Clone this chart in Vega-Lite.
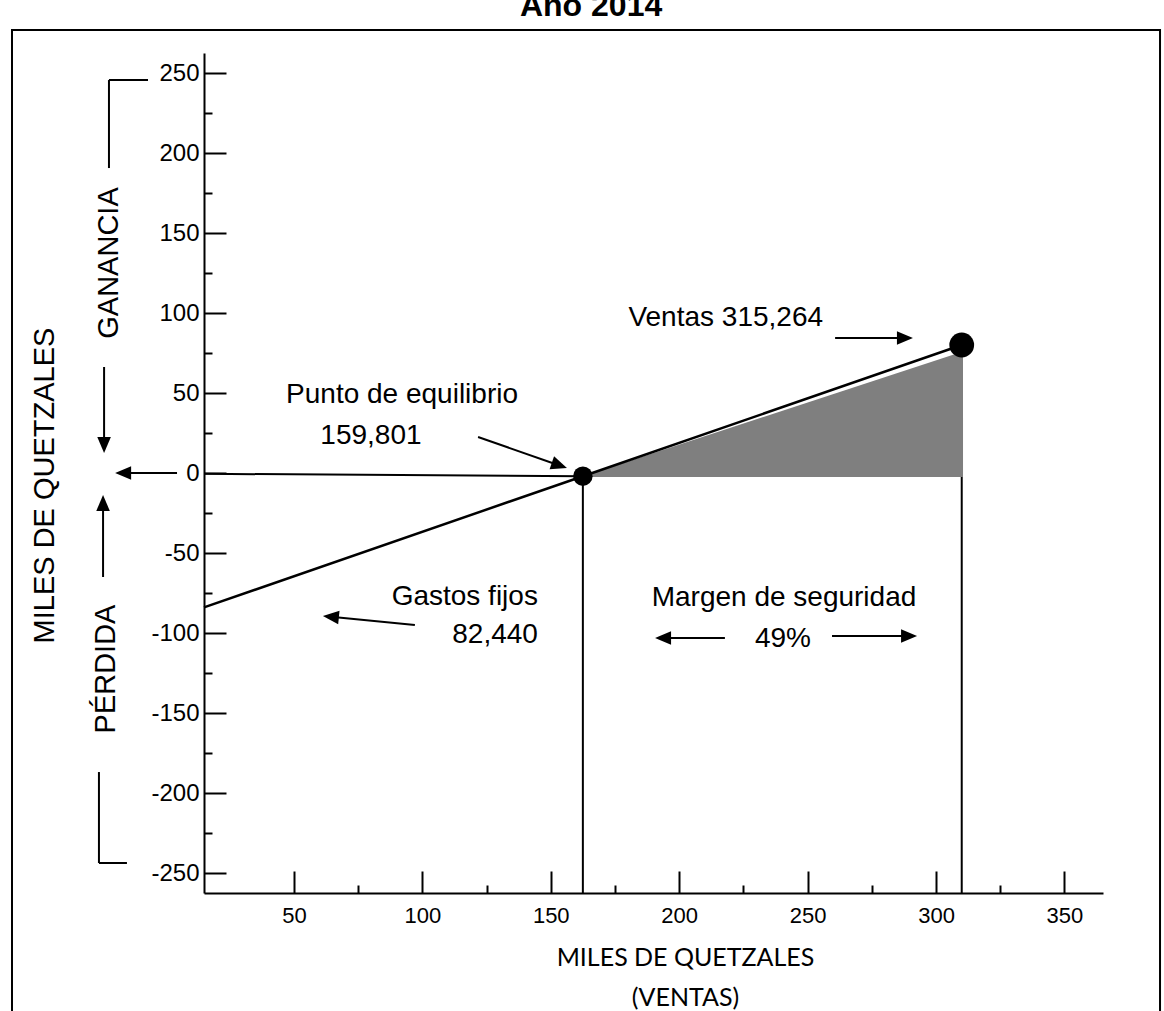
{
  "$schema": "https://vega.github.io/schema/vega-lite/v6.json",
  "width": 899,
  "height": 840,
  "autosize": {"type": "none"},
  "padding": {"left": 204, "top": 53, "right": 61, "bottom": 118},
  "data": {"values": [{}]},
  "datasets": {
    "resultado": [
      {"ventas": 15, "resultado": -84},
      {"ventas": 162.5, "resultado": -2},
      {"ventas": 310, "resultado": 80}
    ],
    "margen": [
      {"ventas": 162.5, "superior": -2, "inferior": -2.5},
      {"ventas": 310.5, "superior": 76, "inferior": -2.5}
    ],
    "puntos": [
      {"ventas": 162.5, "resultado": -2, "tipo": "Punto de equilibrio"},
      {"ventas": 310, "resultado": 80, "tipo": "Ventas"}
    ]
  },
  "layer": [
    {
      "mark": {"type": "rect", "fill": "transparent", "stroke": "black", "strokeWidth": 2},
      "encoding": {
        "x": {"datum": -59.75}, "x2": {"datum": 387.2},
        "y": {"datum": 276.9}, "y2": {"datum": -348}
      }
    },
    {
      "mark": {"type": "text", "text": "Año 2014", "align": "center", "baseline": "alphabetic", "font": "Liberation Sans", "fontSize": 32, "fontWeight": "bold", "color": "black"},
      "encoding": {"x": {"datum": 165.7}, "y": {"datum": 285.6}}
    },
    {
      "data": {"name": "puntos"},
      "mark": {"type": "rule", "color": "black", "strokeWidth": 2},
      "encoding": {
        "x": {"field": "ventas", "type": "quantitative"},
        "y": {"field": "resultado", "type": "quantitative"},
        "y2": {"datum": -262.5}
      }
    },
    {
      "data": {"name": "margen"},
      "mark": {"type": "area", "color": "#7f7f7f", "opacity": 1},
      "encoding": {
        "x": {"field": "ventas", "type": "quantitative"},
        "y": {"field": "superior", "type": "quantitative"},
        "y2": {"field": "inferior"}
      }
    },
    {
      "mark": {"type": "rule", "color": "black", "strokeWidth": 2},
      "encoding": {
        "x": {"datum": 15}, "x2": {"datum": 162.5},
        "y": {"datum": -0.5}, "y2": {"datum": -2}
      }
    },
    {
      "data": {"name": "resultado"},
      "mark": {"type": "line", "color": "black", "strokeWidth": 2.5},
      "encoding": {
        "x": {
          "field": "ventas",
          "type": "quantitative",
          "scale": {"domain": [15, 365], "nice": false, "zero": false},
          "axis": {
            "values": [50, 75, 100, 125, 150, 175, 200, 225, 250, 275, 300, 325, 350],
            "labelExpr": "datum.value % 50 === 0 ? '' + datum.value : ''",
            "tickSize": {"condition": {"test": "datum.value % 50 === 0", "value": -22}, "value": -8},
            "tickWidth": 2,
            "domainWidth": 2,
            "labelPadding": 51,
            "labelBaseline": "alphabetic",
            "labelFontSize": 22,
            "labelFlush": false,
            "labelOverlap": false,
            "title": ["MILES DE QUETZALES", "(VENTAS)"],
            "titleFont": "Lato",
            "titleFontSize": 25,
            "titleFontWeight": "normal",
            "titleLineHeight": 40,
            "titleAlign": "center",
            "titleBaseline": "alphabetic",
            "titleX": 481,
            "titleY": 72
          }
        },
        "y": {
          "field": "resultado",
          "type": "quantitative",
          "scale": {"domain": [-262.5, 262.5], "nice": false, "zero": false},
          "axis": {
            "values": [-250, -225, -200, -175, -150, -125, -100, -75, -50, -25, 0, 25, 50, 75, 100, 125, 150, 175, 200, 225, 250],
            "labelExpr": "datum.value % 50 === 0 ? '' + datum.value : ''",
            "tickSize": {"condition": {"test": "datum.value % 50 === 0", "value": -22}, "value": -8},
            "tickWidth": 2,
            "domainWidth": 2,
            "labelPadding": 27,
            "labelBaseline": "middle",
            "labelFontSize": 24,
            "labelFlush": false,
            "labelOverlap": false,
            "title": "MILES DE QUETZALES",
            "titleFont": "Liberation Sans",
            "titleFontSize": 29,
            "titleFontWeight": "normal",
            "titleAngle": 270,
            "titleAlign": "center",
            "titleBaseline": "alphabetic",
            "titleX": -151,
            "titleY": 432
          }
        }
      }
    },
    {
      "data": {"name": "puntos"},
      "mark": {"type": "circle", "color": "black", "opacity": 1},
      "encoding": {
        "x": {"field": "ventas", "type": "quantitative"},
        "y": {"field": "resultado", "type": "quantitative"},
        "size": {"condition": {"test": "datum.tipo === 'Ventas'", "value": 615}, "value": 380}
      }
    },
    {
      "mark": {"type": "rule", "color": "black", "strokeWidth": 2},
      "encoding": {"x": {"datum": -22}, "x2": {"datum": -6.8}, "y": {"datum": 245.6}}
    },
    {
      "mark": {"type": "rule", "color": "black", "strokeWidth": 2},
      "encoding": {"x": {"datum": -22}, "y": {"datum": 245.6}, "y2": {"datum": 190.6}}
    },
    {
      "mark": {"type": "rule", "color": "black", "strokeWidth": 2},
      "encoding": {"x": {"datum": -25.9}, "y": {"datum": -186.9}, "y2": {"datum": -243.75}}
    },
    {
      "mark": {"type": "rule", "color": "black", "strokeWidth": 2},
      "encoding": {"x": {"datum": -25.9}, "x2": {"datum": -15}, "y": {"datum": -243.75}}
    },
    {
      "mark": {"type": "rule", "color": "black", "strokeWidth": 2},
      "encoding": {"x": {"datum": -23.9}, "y": {"datum": 66.25}, "y2": {"datum": 17.5}}
    },
    {
      "mark": {"type": "point", "shape": "M0,0L-2,-0.85L-2,0.85Z", "filled": true, "size": 256, "color": "black", "opacity": 1, "angle": 90},
      "encoding": {"x": {"datum": -23.9}, "y": {"datum": 12.5}}
    },
    {
      "mark": {"type": "rule", "color": "black", "strokeWidth": 2},
      "encoding": {"x": {"datum": 4.5}, "x2": {"datum": -16.5}, "y": {"datum": 0}}
    },
    {
      "mark": {"type": "point", "shape": "M0,0L-2,-0.85L-2,0.85Z", "filled": true, "size": 256, "color": "black", "opacity": 1, "angle": 180},
      "encoding": {"x": {"datum": -19.6}, "y": {"datum": 0}}
    },
    {
      "mark": {"type": "rule", "color": "black", "strokeWidth": 2},
      "encoding": {"x": {"datum": -24.3}, "y": {"datum": -65}, "y2": {"datum": -18.75}}
    },
    {
      "mark": {"type": "point", "shape": "M0,0L-2,-0.85L-2,0.85Z", "filled": true, "size": 256, "color": "black", "opacity": 1, "angle": 270},
      "encoding": {"x": {"datum": -24.3}, "y": {"datum": -13.75}}
    },
    {
      "mark": {"type": "rule", "color": "black", "strokeWidth": 2},
      "encoding": {"x": {"datum": 121.7}, "x2": {"datum": 153.4}, "y": {"datum": 22.5}, "y2": {"datum": 4.7}}
    },
    {
      "mark": {"type": "point", "shape": "M0,0L-2,-0.85L-2,0.85Z", "filled": true, "size": 256, "color": "black", "opacity": 1, "angle": 19.2},
      "encoding": {"x": {"datum": 156.3}, "y": {"datum": 3.1}}
    },
    {
      "mark": {"type": "rule", "color": "black", "strokeWidth": 2},
      "encoding": {"x": {"datum": 97.1}, "x2": {"datum": 64.4}, "y": {"datum": -95}, "y2": {"datum": -89.9}}
    },
    {
      "mark": {"type": "point", "shape": "M0,0L-2,-0.85L-2,0.85Z", "filled": true, "size": 256, "color": "black", "opacity": 1, "angle": 185.6},
      "encoding": {"x": {"datum": 61.3}, "y": {"datum": -89.4}}
    },
    {
      "mark": {"type": "rule", "color": "black", "strokeWidth": 2},
      "encoding": {"x": {"datum": 260.7}, "x2": {"datum": 287.9}, "y": {"datum": 84.4}}
    },
    {
      "mark": {"type": "point", "shape": "M0,0L-2,-0.85L-2,0.85Z", "filled": true, "size": 256, "color": "black", "opacity": 1, "angle": 0},
      "encoding": {"x": {"datum": 291}, "y": {"datum": 84.4}}
    },
    {
      "mark": {"type": "rule", "color": "black", "strokeWidth": 2},
      "encoding": {"x": {"datum": 217.8}, "x2": {"datum": 193.7}, "y": {"datum": -103.1}}
    },
    {
      "mark": {"type": "point", "shape": "M0,0L-2,-0.85L-2,0.85Z", "filled": true, "size": 256, "color": "black", "opacity": 1, "angle": 180},
      "encoding": {"x": {"datum": 190.6}, "y": {"datum": -103.1}}
    },
    {
      "mark": {"type": "rule", "color": "black", "strokeWidth": 2},
      "encoding": {"x": {"datum": 259.5}, "x2": {"datum": 289.5}, "y": {"datum": -101.9}}
    },
    {
      "mark": {"type": "point", "shape": "M0,0L-2,-0.85L-2,0.85Z", "filled": true, "size": 256, "color": "black", "opacity": 1, "angle": 0},
      "encoding": {"x": {"datum": 292.6}, "y": {"datum": -101.9}}
    },
    {
      "mark": {"type": "text", "text": "Punto de equilibrio", "align": "center", "baseline": "alphabetic", "font": "Liberation Sans", "fontSize": 28, "color": "black"},
      "encoding": {"x": {"datum": 92.1}, "y": {"datum": 43.75}}
    },
    {
      "mark": {"type": "text", "text": "159,801", "align": "center", "baseline": "alphabetic", "font": "Liberation Sans", "fontSize": 28, "color": "black"},
      "encoding": {"x": {"datum": 80}, "y": {"datum": 18.1}}
    },
    {
      "mark": {"type": "text", "text": "Gastos fijos", "align": "right", "baseline": "alphabetic", "font": "Liberation Sans", "fontSize": 28, "color": "black"},
      "encoding": {"x": {"datum": 145}, "y": {"datum": -82.5}}
    },
    {
      "mark": {"type": "text", "text": "82,440", "align": "right", "baseline": "alphabetic", "font": "Liberation Sans", "fontSize": 28, "color": "black"},
      "encoding": {"x": {"datum": 145}, "y": {"datum": -106.25}}
    },
    {
      "mark": {"type": "text", "text": "Margen de seguridad", "align": "center", "baseline": "alphabetic", "font": "Liberation Sans", "fontSize": 28, "color": "black"},
      "encoding": {"x": {"datum": 240.8}, "y": {"datum": -83.1}}
    },
    {
      "mark": {"type": "text", "text": "49%", "align": "center", "baseline": "alphabetic", "font": "Liberation Sans", "fontSize": 28, "color": "black"},
      "encoding": {"x": {"datum": 240.4}, "y": {"datum": -108.75}}
    },
    {
      "mark": {"type": "text", "text": "Ventas 315,264", "align": "right", "baseline": "alphabetic", "font": "Liberation Sans", "fontSize": 28, "color": "black"},
      "encoding": {"x": {"datum": 256}, "y": {"datum": 91.9}}
    },
    {
      "mark": {"type": "text", "text": "GANANCIA", "align": "center", "baseline": "alphabetic", "angle": 270, "font": "Liberation Sans", "fontSize": 29, "color": "black"},
      "encoding": {"x": {"datum": -18.5}, "y": {"datum": 131.25}}
    },
    {
      "mark": {"type": "text", "text": "PÉRDIDA", "align": "center", "baseline": "alphabetic", "angle": 270, "font": "Liberation Sans", "fontSize": 29, "color": "black"},
      "encoding": {"x": {"datum": -19.6}, "y": {"datum": -122.5}}
    }
  ],
  "config": {
    "view": {"stroke": null},
    "font": "Liberation Sans",
    "axis": {
      "grid": false,
      "labelFont": "Liberation Sans",
      "labelColor": "black",
      "tickColor": "black",
      "domainColor": "black",
      "titleColor": "black"
    }
  }
}
